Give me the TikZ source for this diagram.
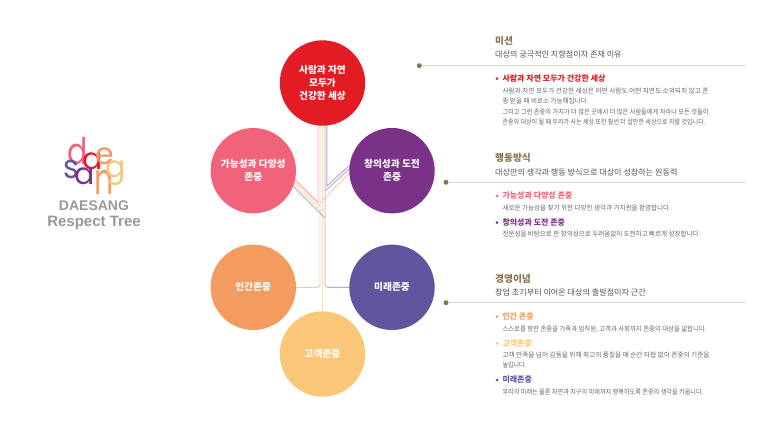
\documentclass[tikz,border=0pt]{standalone}
\usepackage{fontspec}
\setmainfont{Noto Sans CJK KR}
\newfontfamily\logofont{Poppins}
\newfontfamily\arialfont{Liberation Sans}
\usetikzlibrary{backgrounds,calc}
\definecolor{cred}{HTML}{E31B23}
\definecolor{cpink}{HTML}{F0637A}
\definecolor{cpurple}{HTML}{7A3188}
\definecolor{corange}{HTML}{F49B60}
\definecolor{cviolet}{HTML}{62559F}
\definecolor{cyellow}{HTML}{FAC778}
\definecolor{cbrown}{HTML}{8A7350}
\definecolor{crule}{HTML}{E0D9CC}
\definecolor{ctext}{HTML}{666666}
\definecolor{csub}{HTML}{555555}
\definecolor{llpink}{HTML}{F5B0BC}
\definecolor{llorange}{HTML}{FAC9A6}
\definecolor{llyellow}{HTML}{FCDDA8}
\definecolor{llpurple}{HTML}{BF9FC8}
\definecolor{llviolet}{HTML}{B0A9D4}
\newcommand{\fitw}[2]{\resizebox{#1pt}{\height}{#2}}
\newcommand{\logostretch}[2]{\scalebox{1}[#1]{#2}}
\tikzset{
  circ/.style={circle,minimum size=85.4pt,inner sep=0pt,text=white,align=center,
    font=\fontsize{9.7}{13.3}\selectfont\bfseries},
  tree/.style={line width=0.9pt,rounded corners=3pt},
  treeb/.style={line width=0.9pt},
  ttl/.style={anchor=west,inner sep=0pt,text=cbrown,font=\fontsize{9.7}{11}\selectfont\bfseries},
  subt/.style={anchor=west,inner sep=0pt,text=csub,font=\fontsize{8.1}{10}\selectfont},
  head/.style={anchor=west,inner sep=0pt,font=\fontsize{8}{10}\selectfont\bfseries},
  body/.style={anchor=west,inner sep=0pt,text=ctext,font=\fontsize{6.7}{8}\selectfont},
  bul/.style={circle,inner sep=0pt,minimum size=3pt},
  dotn/.style={circle,inner sep=0pt,minimum size=5pt,fill=cbrown},
  rulel/.style={line width=1pt,crule},
  logo/.style={inner sep=0pt,font=\fontsize{30}{30}\logofont},
  lgt/.style={inner sep=0pt,text=black!40,anchor=base}
}
\begin{document}
\begin{tikzpicture}[x=1pt,y=-1pt]
\useasboundingbox (0,0) rectangle (780,439);
% circles
\node[circ,fill=cred]    (tp) at (322.5,83)  {사람과 자연\\모두가\\건강한 세상};
\node[circ,fill=cpink]   (lf) at (253.3,170.7) {가능성과 다양성\\존중};
\node[circ,fill=cpurple] (rt) at (392,170.7) {창의성과 도전\\존중};
\node[circ,fill=corange] (hm) at (253.3,287.3) {인간존중};
\node[circ,fill=cviolet] (fu) at (392,287.3) {미래존중};
\node[circ,fill=cyellow] (cu) at (322.5,354) {고객존중};
% junctions
\coordinate (jp) at (318,202);
\coordinate (jo) at (320,206);
\coordinate (jy) at (322.4,212);
\coordinate (jv) at (325,218);
\coordinate (ju) at (326.8,186);
\coordinate (jw) at (325,191);
\coordinate (jq) at (320,203);
\coordinate (ep) at (270,154);
\coordinate (eo) at (270,156.3);
\coordinate (ey) at (270,159.7);
\coordinate (ev) at (270,163);
\coordinate (eu) at (370,147);
\coordinate (ew) at (370,150);
\coordinate (eq) at (370,152.5);
\begin{scope}[on background layer]
\draw[treeb,llpink]   (tp.center -| jp) -- (jp) -- (ep);
\draw[tree,llorange] (tp.center -| jo) -- (hm.center -| jo) -- (hm.center);
\draw[treeb,llorange] (jo) -- (eo);
\draw[treeb,llorange] (jq) -- (eq);
\draw[treeb,llyellow] (tp.center -| jy) -- (cu.center -| jy);
\draw[treeb,llyellow] (jy) -- (ey);
\draw[tree,llviolet] (tp.center -| jv) -- (fu.center -| jv) -- (fu.center);
\draw[treeb,llviolet] (jv) -- (ev);
\draw[treeb,llviolet] (jw) -- (ew);
\draw[treeb,llpurple] (tp.center -| ju) -- (ju) -- (eu);
\end{scope}
% logo
\node[logo,text=cpink]   (l1) at (77.7,151.5) {\logostretch{1.22}{d}};
\node[logo,text=cred]    (l2) at (92.3,161.5) {a};
\node[logo,text=corange!90!cpink] (l3) at (105,156.5) {e};
\node[logo,text=cviolet] (l4) at (71,169) {\logostretch{1.1}{s}};
\node[logo,text=cpurple] (l5) at (85,176.5) {a};
\node[logo,text=corange] (l6) at (104,182.5) {\logostretch{1.45}{n}};
\node[logo,text=cyellow] (l7) at (115.7,173) {g};
\node[lgt,font=\arialfont\bfseries\fontsize{14}{15}\selectfont] (l8) at (94,210.8) {DAESANG};
\node[lgt,font=\arialfont\bfseries\fontsize{15}{16}\selectfont] (l9) at (94,226.7) {Respect Tree};
% section 1
\node[ttl]  (t1) at (495,41) {미션};
\node[subt] (s1) at (495,54) {대상의 궁극적인 지향점이자 존재 이유};
\node[dotn] (d1) at (419.3,65.7) {};
\coordinate (r1) at (746,65.7);
\draw[rulel] (d1) -- (r1);
\node[bul,fill=cred] (b1) at (497,78.7) {};
\node[head,text=cred] (h1) at (502.3,78.7) {사람과 자연 모두가 건강한 세상};
\node[body] (x1) at (502.3,90.7) {\fitw{206}{사람과 자연 모두가 건강한 세상은 어떤 사람도 어떤 자연도 소외되지 않고 존}};
\node[body] (x2) at (502.3,101) {\fitw{86}{중 받을 때 비로소 가능해집니다.}};
\node[body] (x3) at (502.3,111.7) {\fitw{206}{그리고 그런 존중의 가치가 더 많은 곳에서 더 많은 사람들에게 자라나 모든 것들이}};
\node[body] (x4) at (502.3,122.3) {\fitw{203}{존중의 대상이 될 때 우리가 사는 세상 또한 훨씬 더 살만한 세상으로 자랄 것입니다.}};
% section 2
\node[ttl]  (t2) at (495,158.3) {행동방식};
\node[subt] (s2) at (495,172.3) {대상만의 생각과 행동 방식으로 대상이 성장하는 원동력};
\node[dotn] (d2) at (446,182.3) {};
\coordinate (r2) at (746,182.3);
\draw[rulel] (d2) -- (r2);
\node[bul,fill=cpink] (b2) at (497,196) {};
\node[head,text=cpink] (h2) at (502.3,196) {가능성과 다양성 존중};
\node[body] (x5) at (502.3,208.3) {\fitw{168.5}{새로운 가능성을 찾기 위한 다양한 생각과 가치관을 환영합니다.}};
\node[bul,fill=cpurple] (b3) at (497,222.7) {};
\node[head,text=cpurple] (h3) at (502.3,222.7) {창의성과 도전 존중};
\node[body] (x6) at (502.3,234.3) {\fitw{198}{전문성을 바탕으로 한 창의성으로 두려움없이 도전하고 빠르게 성장합니다.}};
% section 3
\node[ttl]  (t3) at (495,279) {경영이념};
\node[subt] (s3) at (495,292.7) {창업 초기부터 이어온 대상의 출발점이자 근간};
\node[dotn] (d3) at (446,302.7) {};
\coordinate (r3) at (746,302.7);
\draw[rulel] (d3) -- (r3);
\node[bul,fill=corange] (b4) at (497,316.7) {};
\node[head,text=corange] (h4) at (502.3,316.7) {인간 존중};
\node[body] (x7) at (502.3,329) {\fitw{204}{스스로를 향한 존중을 가족과 임직원, 고객과 사회까지 존중의 대상을 넓힙니다.}};
\node[bul,fill=cyellow] (b5) at (497,343.3) {};
\node[head,text=cyellow] (h5) at (502.3,343.3) {고객존중};
\node[body] (x8) at (502.3,355) {\fitw{207}{고객 만족을 넘어 감동을 위해 최고의 품질을 매 순간 타협 없이 존중의 기준을}};
\node[body] (x9) at (502.3,365.3) {\fitw{24}{높입니다.}};
\node[bul,fill=cviolet] (b6) at (497,380) {};
\node[head,text=cviolet] (h6) at (502.3,380) {미래존중};
\node[body] (x10) at (502.3,392) {\fitw{201}{우리의 미래는 물론 자연과 지구의 미래까지 행복하도록 존중의 생각을 키웁니다.}};
\end{tikzpicture}
\end{document}
